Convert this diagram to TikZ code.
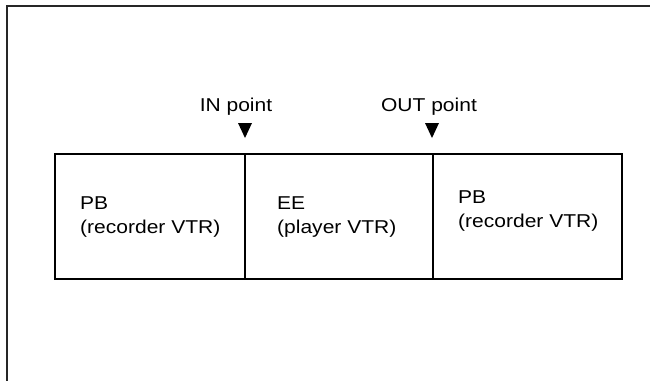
\documentclass[tikz,border=0pt]{standalone}
\usepackage{fontspec}
\setmainfont{Liberation Sans}[FakeStretch=1.13]
\begin{document}
\begin{tikzpicture}[
      x=1pt, y=1pt,
      font=\fontsize{18.6}{24}\selectfont,
      frame/.style={draw=black!85, line width=2.2pt},
      seg/.style={
        draw, line width=2pt, rectangle, inner sep=0pt, outer sep=0pt,
        minimum height=125.5pt, anchor=north west
      },
      lbl/.style={align=left, inner sep=0pt, anchor=north west},
      pointlbl/.style={inner sep=0pt, anchor=base},
      marker/.style={fill=black}
    ]
    \useasboundingbox (0,0) rectangle (650,-381);

    % outer frame (top and left only)
    \draw[frame] (650,-6) -- (7,-6) -- (7,-381);

    % the three segments
    \node[seg, minimum width=190.5pt] (pbin) at (54.5,-153.5) {};
    \node[seg, minimum width=188pt] (ee) at (pbin.north east) {};
    \node[seg, minimum width=189pt] (pbout) at (ee.north east) {};

    \node[lbl] (pbintxt) at (80,-196) {PB\\(recorder VTR)};
    \node[lbl] (eetxt) at (277,-196) {EE\\(player VTR)};
    \node[lbl] (pbouttxt) at (458,-190) {PB\\(recorder VTR)};

    % edit points
    \node[pointlbl] (inlbl) at (236,-111) {IN point};
    \node[pointlbl] (outlbl) at (429,-111) {OUT point};

    \coordinate (intip) at (245,-138);
    \coordinate (outtip) at (432,-138);
    \fill[marker] (intip) -- ++(-7,15) -- ++(14,0) -- cycle;
    \fill[marker] (outtip) -- ++(-7,15) -- ++(14,0) -- cycle;
  \end{tikzpicture}
\end{document}
